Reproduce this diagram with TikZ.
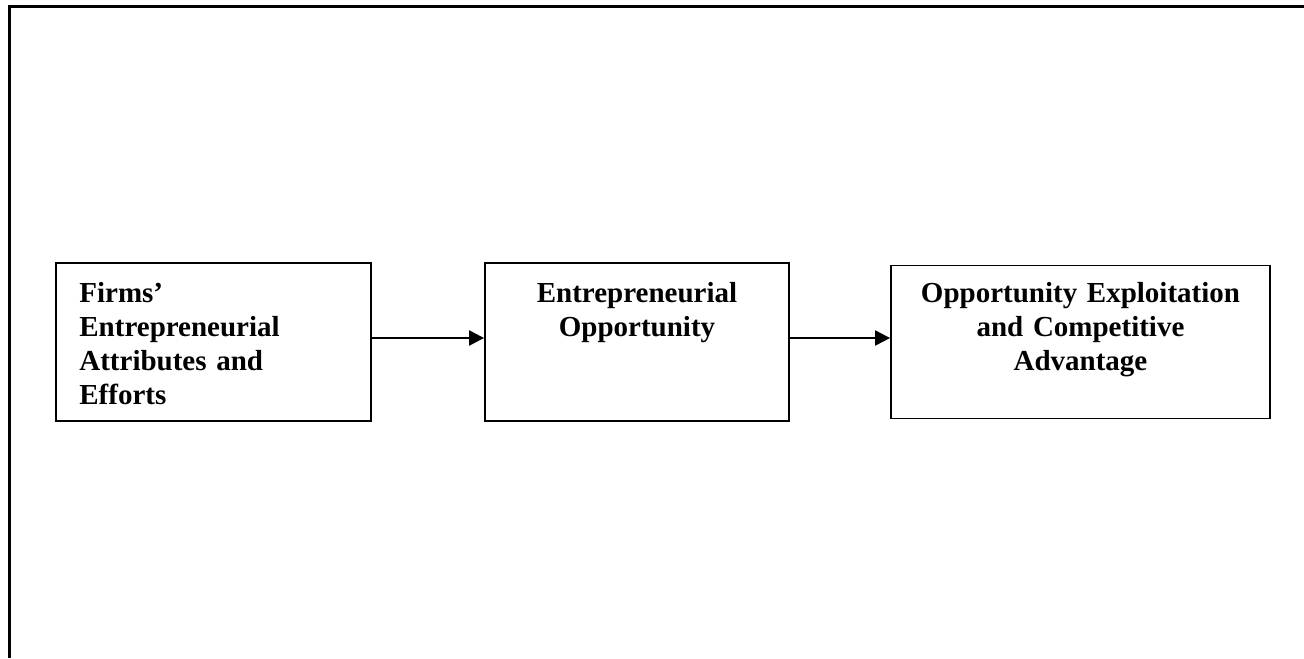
\documentclass[tikz,border=0pt]{standalone}
\usepackage{fontspec}
\setmainfont{Liberation Serif}
\usepackage{tikz}
\usetikzlibrary{arrows.meta}

\begin{document}
\begin{tikzpicture}[x=0.5pt, y=-0.5pt,
    box/.style={draw, line width=0.9pt, inner sep=0pt, minimum height=79pt},
    lbl/.style={inner sep=0pt, font=\bfseries\fontsize{14.5}{17.15}\selectfont},
    arr/.style={line width=1pt, -{Triangle[length=7.5pt, width=7.5pt]}}]
  \useasboundingbox (0, 0) rectangle (1304, 658);
  \draw[line width=1.2pt] (1304, 6.5) -- (9.5, 6.5) -- (9.5, 658);

  \node[box, minimum width=157.5pt] (firm) at (213.5, 342) {};
  \node[box, minimum width=152pt] (opp) at (637, 342) {};
  \node[box, minimum width=189.5pt, minimum height=76.5pt] (adv) at (1080.5, 342) {};

  \node[lbl, text width=140pt, align=left, anchor=base west] (firmtext) at (79, 302)
    {Firms’\\ Entrepreneurial\\ Attributes and\\ Efforts};
  \node[lbl, text width=140pt, align=center, anchor=base] (opptext) at (637, 302)
    {Entrepreneurial\\ Opportunity};
  \node[lbl, text width=180pt, align=center, anchor=base] (advtext) at (1080.5, 302)
    {Opportunity Exploitation\\ and Competitive\\ Advantage};

  \draw[arr] ([yshift=2pt]firm.east) -- ([yshift=2pt]opp.west);
  \draw[arr] ([yshift=2pt]opp.east) -- ([yshift=2pt]adv.west);
\end{tikzpicture}
\end{document}
